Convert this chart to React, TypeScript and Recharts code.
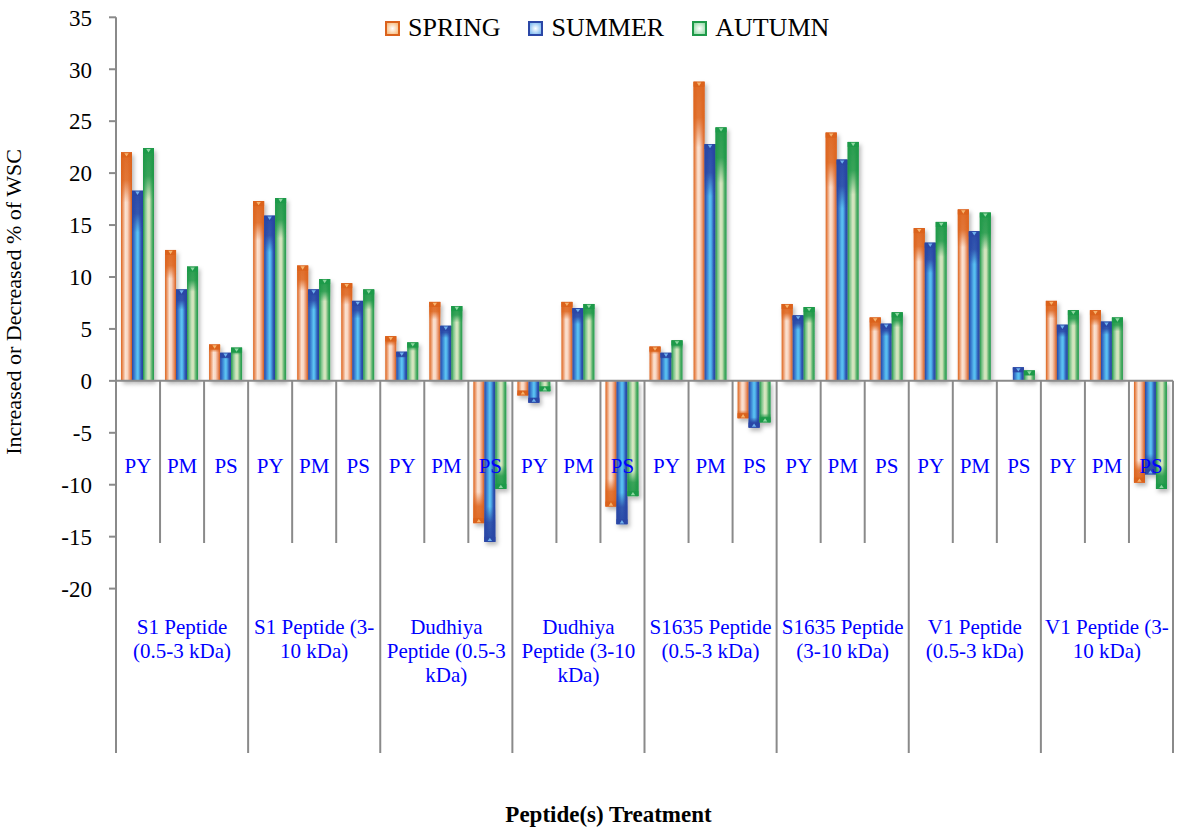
import React from 'react';
import { BarChart, Bar, XAxis, YAxis, ReferenceLine, Legend } from 'recharts';

// ---------- data ----------
const groupLabelLines: string[][] = [
  ['S1 Peptide', '(0.5-3 kDa)'],
  ['S1 Peptide (3-', '10 kDa)'],
  ['Dudhiya', 'Peptide (0.5-3', 'kDa)'],
  ['Dudhiya', 'Peptide (3-10', 'kDa)'],
  ['S1635 Peptide', '(0.5-3 kDa)'],
  ['S1635 Peptide', '(3-10 kDa)'],
  ['V1 Peptide', '(0.5-3 kDa)'],
  ['V1 Peptide (3-', '10 kDa)'],
];
const subLabels = ['PY', 'PM', 'PS'];

const springValues = [
  22.0, 12.6, 3.5,
  17.3, 11.1, 9.4,
  4.3, 7.6, -13.7,
  -1.4, 7.6, -12.1,
  3.3, 28.8, -3.6,
  7.4, 23.9, 6.1,
  14.7, 16.5, 0,
  7.7, 6.8, -9.8,
];
const summerValues = [
  18.3, 8.8, 2.7,
  15.9, 8.8, 7.7,
  2.8, 5.3, -15.5,
  -2.1, 7.0, -13.8,
  2.7, 22.8, -4.5,
  6.3, 21.3, 5.5,
  13.3, 14.4, 1.3,
  5.4, 5.7, -9.0,
];
const autumnValues = [
  22.4, 11.0, 3.2,
  17.6, 9.8, 8.8,
  3.7, 7.2, -10.4,
  -1.0, 7.4, -11.1,
  3.9, 24.4, -4.0,
  7.1, 23.0, 6.6,
  15.3, 16.2, 1.0,
  6.8, 6.1, -10.4,
];
const yTicks = [-20, -15, -10, -5, 0, 5, 10, 15, 20, 25, 30, 35];

const seriesNames = ['SPRING', 'SUMMER', 'AUTUMN'];

const data = springValues.map((v, i) => ({
  id: `${Math.floor(i / 3)}-${subLabels[i % 3]}`,
  spring: v,
  summer: summerValues[i],
  autumn: autumnValues[i],
}));

// ---------- layout (page coordinates; svg placed at page 0,0) ----------
const W = 1186;
const H = 833;
const TOP = 17.3;
const LEFT = 116;
const RIGHT_M = 13;
const PLOT_BOTTOM = 588.6;
const PLOT_H = PLOT_BOTTOM - TOP;
const PLOT_W = W - LEFT - RIGHT_M;
const BAND = PLOT_W / data.length;
const ZERO_Y = TOP + (PLOT_H * 35) / 55;
const SHORT_BOTTOM = 543;
const LONG_BOTTOM = 753;
const AXIS_GRAY = '#8a8a8a';
const FONT = '"Liberation Serif", "Times New Roman", serif';
const BLUE_TXT = '#0000ff';

const palette: Record<string, { dark: string; tri: string }> = {
  spring: { dark: '#db621c', tri: '#f7b46e' },
  summer: { dark: '#2b47a6', tri: '#6fb2ee' },
  autumn: { dark: '#1f9a4a', tri: '#8fd8a2' },
};

const makeShape = (key: string) => (props: any) => {
  const { x, y, width, height, payload } = props;
  const v = payload ? payload[key] : 0;
  if (!v || !width) return null;
  const top = Math.min(y, y + height);
  const h = Math.abs(height);
  const neg = v < 0;
  const cap = Math.min(5, h);
  const capTop = neg ? top + h - cap : top;
  const { dark, tri } = palette[key];
  const triPts = neg
    ? `${x + width * 0.3},${capTop + cap - 0.8} ${x + width * 0.7},${capTop + cap - 0.8} ${x + width * 0.5},${capTop + 0.8}`
    : `${x + width * 0.3},${capTop + 0.8} ${x + width * 0.7},${capTop + 0.8} ${x + width * 0.5},${capTop + cap - 0.8}`;
  return (
    <g filter="url(#barShadow)">
      <rect x={x} y={top} width={width} height={h} fill={`url(#${key}-h)`} />
      <rect x={x} y={top} width={width} height={h} fill={`url(#${key}-${neg ? 'vn' : 'vp'})`} />
      <rect x={x} y={capTop} width={width} height={cap} fill={dark} />
      <polygon points={triPts} fill={tri} />
    </g>
  );
};

const renderXTick = (props: any) => {
  const { x, index } = props;
  const i = index as number;
  const left = x - BAND / 2;
  const isGroupStart = i % 3 === 0;
  const g = Math.floor(i / 3);
  return (
    <g>
      <line x1={left} y1={ZERO_Y} x2={left} y2={isGroupStart ? LONG_BOTTOM : SHORT_BOTTOM} stroke={AXIS_GRAY} strokeWidth={2} />
      {i === data.length - 1 && (
        <line x1={x + BAND / 2} y1={ZERO_Y} x2={x + BAND / 2} y2={LONG_BOTTOM} stroke={AXIS_GRAY} strokeWidth={2} />
      )}
      <text x={x} y={473} textAnchor="middle" fontFamily={FONT} fontSize={21} fill={BLUE_TXT}>
        {subLabels[i % 3]}
      </text>
      {i % 3 === 1 &&
        groupLabelLines[g].map((line, k) => (
          <text key={k} x={x} y={634 + k * 24} textAnchor="middle" fontFamily={FONT} fontSize={21} fill={BLUE_TXT}>
            {line}
          </text>
        ))}
    </g>
  );
};

const renderYTick = (props: any) => {
  const { x, y, payload } = props;
  return (
    <text x={x} y={y} dy="0.36em" textAnchor="end" fontFamily={FONT} fontSize={23} fill="#000">
      {payload.value}
    </text>
  );
};

const LegendIcon = ({ k }: { k: string }) => (
  <svg width={15} height={15} style={{ display: 'block' }}>
    <defs>
      <radialGradient id={`leg-${k}`} cx="50%" cy="50%" r="60%">
        <stop offset="0%" stopColor="#ffffff" />
        <stop offset="100%" stopColor={palette[k].tri} />
      </radialGradient>
    </defs>
    <rect x={1} y={1} width={13} height={13} fill={`url(#leg-${k})`} stroke={palette[k].dark} strokeWidth={2} />
  </svg>
);

const renderLegend = () => {
  const keys = ['spring', 'summer', 'autumn'];
  return (
    <div style={{ display: 'flex', alignItems: 'center', fontFamily: FONT, fontSize: 26, lineHeight: '30px', color: '#000', whiteSpace: 'nowrap' }}>
      {keys.map((k, i) => (
        <div key={k} style={{ display: 'flex', alignItems: 'center', marginRight: i < 2 ? 28 : 0 }}>
          <LegendIcon k={k} />
          <span style={{ marginLeft: 8 }}>{seriesNames[i]}</span>
        </div>
      ))}
    </div>
  );
};

const hGrad = (id: string, stops: [number, string][]) => (
  <linearGradient id={id} x1="0" y1="0" x2="1" y2="0">
    {stops.map(([o, c], i) => (
      <stop key={i} offset={`${o}%`} stopColor={c} />
    ))}
  </linearGradient>
);

const vGrad = (id: string, color: string, neg: boolean) => (
  <linearGradient id={id} x1="0" y1={neg ? '1' : '0'} x2="0" y2={neg ? '0' : '1'}>
    <stop offset="0%" stopColor={color} stopOpacity={0.95} />
    <stop offset="12%" stopColor={color} stopOpacity={0.85} />
    <stop offset="22%" stopColor={color} stopOpacity={0} />
    <stop offset="100%" stopColor={color} stopOpacity={0} />
  </linearGradient>
);

export default function App() {
  return (
    <div style={{ position: 'absolute', left: 0, top: 0, width: W, height: H }}>
      <BarChart
        width={W}
        height={H}
        data={data}
        margin={{ top: TOP, right: RIGHT_M, bottom: H - PLOT_BOTTOM - 1, left: 0 }}
        barCategoryGap={5}
        barGap={0}
      >
        <defs>
          <filter id="barShadow" filterUnits="userSpaceOnUse" x="0" y="0" width={W} height={H}>
            <feDropShadow dx="2" dy="3" stdDeviation="2" floodColor="#000" floodOpacity="0.28" />
          </filter>
          {hGrad('spring-h', [[0, '#dd641d'], [18, '#eb9a6c'], [40, '#fbe2d2'], [58, '#f8d6c2'], [82, '#ea9166'], [100, '#d8601e']])}
          {hGrad('summer-h', [[0, '#2a45a4'], [22, '#3a7fd0'], [48, '#5cc4f2'], [60, '#52b4ec'], [82, '#2f5cb8'], [100, '#2942a0']])}
          {hGrad('autumn-h', [[0, '#1e9848'], [20, '#7cc48a'], [45, '#d6e6c2'], [60, '#cfe2b8'], [82, '#55b06a'], [100, '#1f9a4a']])}
          {vGrad('spring-vp', '#dd641d', false)}
          {vGrad('spring-vn', '#dd641d', true)}
          {vGrad('summer-vp', '#2a45a4', false)}
          {vGrad('summer-vn', '#2a45a4', true)}
          {vGrad('autumn-vp', '#1e9848', false)}
          {vGrad('autumn-vn', '#1e9848', true)}
        </defs>
        <XAxis
          dataKey="id"
          interval={0}
          axisLine={false}
          tickLine={false}
          height={1}
          tick={renderXTick}
          label={{
            content: () => (
              <text x={608.5} y={822} textAnchor="middle" fontFamily={FONT} fontSize={23} fontWeight="bold" fill="#000">
                Peptide(s) Treatment
              </text>
            ),
          }}
        />
        <YAxis
          type="number"
          domain={[-20, 35]}
          ticks={yTicks}
          interval={0}
          width={LEFT}
          axisLine={{ stroke: AXIS_GRAY, strokeWidth: 2 }}
          tickLine={{ stroke: AXIS_GRAY, strokeWidth: 2 }}
          tickSize={7}
          tickMargin={17}
          tick={renderYTick}
          label={{
            content: () => (
              <text
                x={21}
                y={302}
                transform="rotate(-90 21 302)"
                textAnchor="middle"
                fontFamily={FONT}
                fontSize={22}
                fill="#000"
              >
                Increased or Decreased % of WSC
              </text>
            ),
          }}
        />
        <Legend
          verticalAlign="middle"
          align="center"
          content={renderLegend}
          wrapperStyle={{ top: 13, left: 385, width: 470, height: 30 }}
        />
        <Bar dataKey="spring" name="SPRING" isAnimationActive={false} shape={makeShape('spring')} />
        <Bar dataKey="summer" name="SUMMER" isAnimationActive={false} shape={makeShape('summer')} />
        <Bar dataKey="autumn" name="AUTUMN" isAnimationActive={false} shape={makeShape('autumn')} />
        <ReferenceLine y={0} stroke={AXIS_GRAY} strokeWidth={2} />
      </BarChart>
    </div>
  );
}
